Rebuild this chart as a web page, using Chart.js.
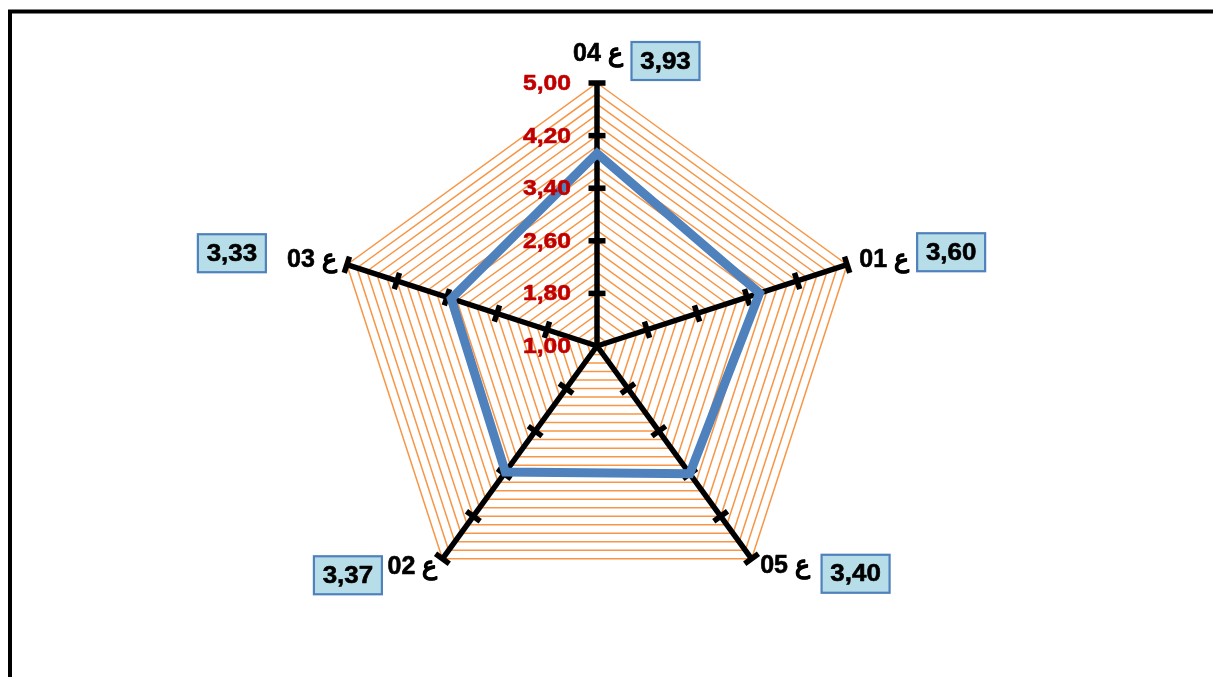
<!DOCTYPE html>
<html>
<head>
<meta charset="utf-8">
<script src="https://cdn.jsdelivr.net/npm/chart.js@4/dist/chart.umd.min.js"></script>
<style>
  html, body { margin: 0; padding: 0; background: #ffffff; }
  #wrap { width: 1213px; height: 677px; position: relative; }
</style>
</head>
<body>
<div id="wrap"><canvas id="radar" width="1213" height="677"></canvas></div>
<script>
// Axes, clockwise from the top
const axisLabels = ['ع 04', 'ع 01', 'ع 05', 'ع 02', 'ع 03'];
const meanScores = [3.93, 3.60, 3.40, 3.37, 3.33];
// Labelled scale values (every 0.80), with finer grid rings every 0.16
const tickValues = [1.00, 1.80, 2.60, 3.40, 4.20, 5.00];
const scaleMin = 1.00;
const scaleMax = 5.00;
const gridStep = 0.16;

const fmt = v => v.toFixed(2).replace('.', ',');

// Offsets of each axis caption and value box from the axis end
const captionLayout = [
  { lx: 1,    ly: -28.5, bx: 68.5,  by: -22 },
  { lx: 37,   ly: -5,    bx: 104,   by: -12.5 },
  { lx: 33.5, ly: 7.5,   bx: 104,   by: 15 },
  { lx: -30,  ly: 8,     bx: -94.5, by: 16.5 },
  { lx: -35,  ly: -5,    bx: -115,  by: -11.5 }
];

const FONT = '"Liberation Sans", Arial, sans-serif';

function stretchedText(ctx, text, x, y, opts) {
  ctx.save();
  ctx.translate(x, y);
  ctx.scale(opts.stretch || 1, 1);
  ctx.font = opts.font;
  ctx.fillStyle = opts.color;
  ctx.strokeStyle = opts.color;
  ctx.lineWidth = 0.6;
  ctx.lineJoin = 'round';
  ctx.textAlign = opts.align || 'center';
  ctx.textBaseline = 'middle';
  if (opts.rtl) ctx.direction = 'rtl';
  ctx.fillText(text, 0, 0);
  ctx.strokeText(text, 0, 0);
  ctx.restore();
}

const decor = {
  id: 'decor',
  beforeDraw(chart) {
    const ctx = chart.ctx;
    ctx.save();
    ctx.fillStyle = '#ffffff';
    ctx.fillRect(0, 0, chart.width, chart.height);
    // outer frame (top and left edges)
    ctx.strokeStyle = '#000000';
    ctx.lineWidth = 4;
    ctx.beginPath();
    ctx.moveTo(10, chart.height + 5);
    ctx.lineTo(10, 11.5);
    ctx.lineTo(chart.width + 5, 11.5);
    ctx.stroke();
    ctx.restore();
  },
  beforeDatasetsDraw(chart) {
    // cross marks on each axis at the labelled values
    const ctx = chart.ctx;
    const r = chart.scales.r;
    ctx.save();
    ctx.strokeStyle = '#000000';
    ctx.lineWidth = 5.5;
    ctx.lineCap = 'butt';
    for (let i = 0; i < axisLabels.length; i++) {
      const a = r.getIndexAngle(i) - Math.PI / 2;
      const px = -Math.sin(a), py = Math.cos(a);
      tickValues.forEach(v => {
        if (v === scaleMin) return;
        const p = r.getPointPositionForValue(i, v);
        const h = 8.5;
        ctx.beginPath();
        ctx.moveTo(p.x - px * h, p.y - py * h);
        ctx.lineTo(p.x + px * h, p.y + py * h);
        ctx.stroke();
      });
    }
    ctx.restore();
  },
  afterDraw(chart) {
    const ctx = chart.ctx;
    const r = chart.scales.r;
    // scale values along the top axis
    tickValues.forEach(v => {
      const p = r.getPointPositionForValue(0, v);
      stretchedText(ctx, fmt(v), p.x - 26, p.y + 1, {
        font: 'bold 22px ' + FONT,
        color: '#C00000',
        align: 'right',
        stretch: 1.12
      });
    });
    // axis captions and boxed mean values
    for (let i = 0; i < axisLabels.length; i++) {
      const end = r.getPointPositionForValue(i, scaleMax);
      const L = captionLayout[i];
      stretchedText(ctx, axisLabels[i], end.x + L.lx, end.y + L.ly, {
        font: 'bold 25px ' + FONT,
        color: '#000000',
        rtl: true
      });
      const bx = end.x + L.bx, by = end.y + L.by;
      const w = 68, h = 38;
      ctx.save();
      ctx.fillStyle = '#B7DEE8';
      ctx.strokeStyle = '#4F81BD';
      ctx.lineWidth = 2.2;
      ctx.fillRect(bx - w / 2, by - h / 2, w, h);
      ctx.strokeRect(bx - w / 2, by - h / 2, w, h);
      ctx.restore();
      stretchedText(ctx, fmt(meanScores[i]), bx, by + 1, {
        font: 'bold 24px ' + FONT,
        color: '#000000',
        stretch: 1.08
      });
    }
  }
};

new Chart(document.getElementById('radar'), {
  type: 'radar',
  data: {
    labels: axisLabels,
    datasets: [{
      data: meanScores,
      borderColor: '#4F81BD',
      borderWidth: 9,
      backgroundColor: 'rgba(0,0,0,0)',
      fill: false,
      pointRadius: 0,
      pointHoverRadius: 0,
      borderJoinStyle: 'miter',
      tension: 0
    }]
  },
  options: {
    responsive: false,
    animation: false,
    events: [],
    layout: { padding: { top: 83, bottom: 68, left: 0, right: 19 } },
    plugins: {
      legend: { display: false },
      tooltip: { enabled: false },
      title: { display: false }
    },
    scales: {
      r: {
        min: scaleMin,
        max: scaleMax,
        startAngle: 0,
        ticks: { stepSize: gridStep, display: false },
        grid: { color: '#F79646', lineWidth: 1.5 },
        angleLines: { color: '#000000', lineWidth: 5.5 },
        pointLabels: { display: false }
      }
    }
  },
  plugins: [decor]
});
</script>
</body>
</html>
